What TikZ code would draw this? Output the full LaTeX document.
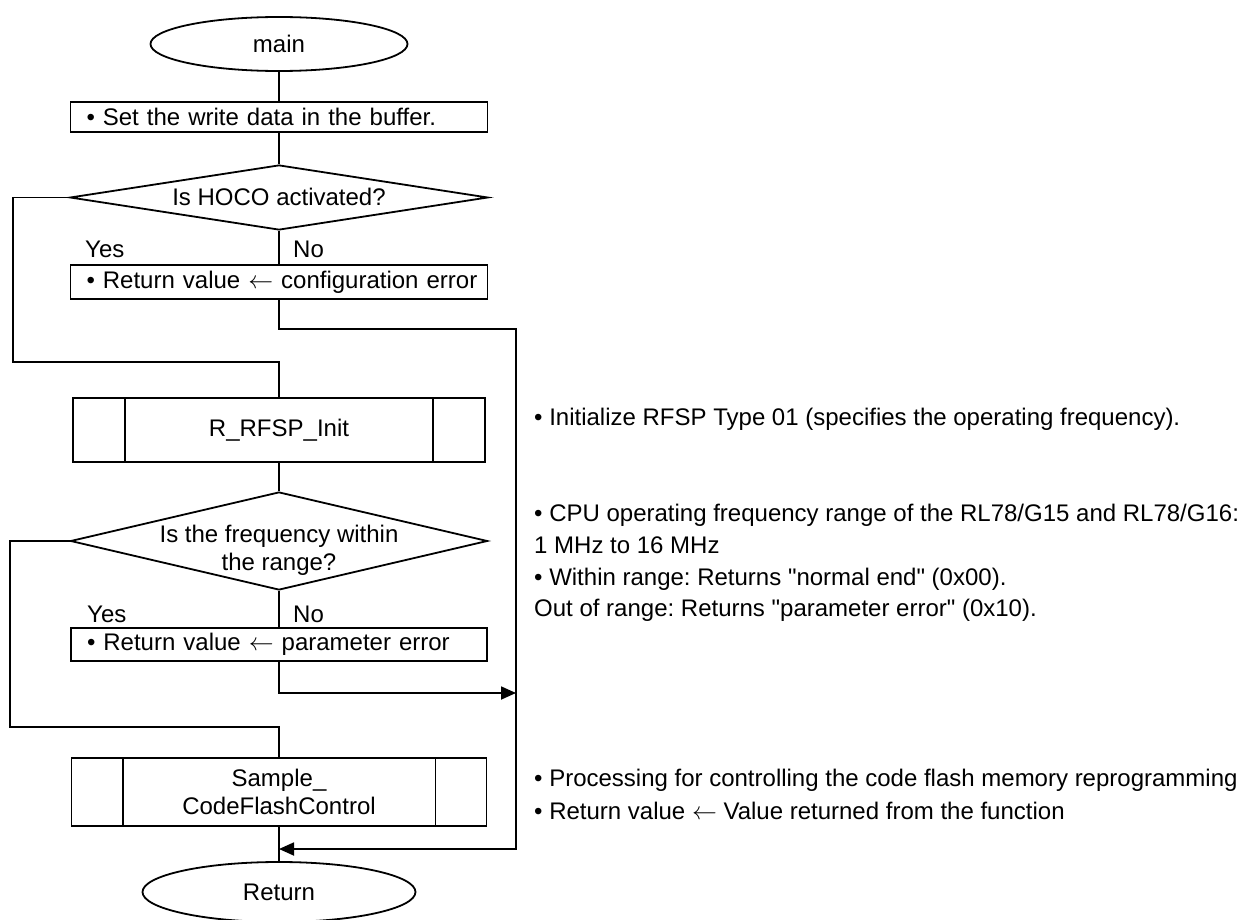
\documentclass[tikz,border=0pt]{standalone}
\usepackage{fontspec}
\setmainfont{Liberation Sans}
\usetikzlibrary{shapes.geometric,arrows.meta}
\frenchspacing
\begin{document}
\begin{tikzpicture}[x=1pt,y=-1pt,
  every node/.style={font=\fontsize{24}{28}\selectfont},
  ln/.style={line width=1.8pt},
  term/.style={draw,ellipse,ln,inner sep=0pt},
  pbox/.style={draw,rectangle,ln,inner sep=0pt,text width=#1,align=left},
  sub/.style={draw,rectangle,ln,inner sep=0pt,align=center},
  dec/.style={draw,diamond,ln,inner sep=0pt},
  txt/.style={inner sep=0pt,align=center},
  lbl/.style={inner sep=0pt,anchor=base west},
  conn/.style={ln},
  arr/.style={ln,-{Triangle[length=15pt,width=13pt]}},
]
\useasboundingbox (0,0) rectangle (1242,920);

% flow column
\node[term, minimum width=257pt, minimum height=54pt] (main) at (279,44) {main};
\node[pbox=417pt, minimum height=30pt] (set) at (279,117) {\hspace*{16pt}\textbullet\ Set the write data in the buffer.};
\node[dec, minimum width=418pt, minimum height=65pt] (hoco) at (279,197.5) {};
\node[txt] (hocot) at (279,197) {Is HOCO activated?};
\node[lbl] (yes1) at (85,257.6) {Yes};
\node[lbl] (no1) at (293,257.6) {No};
\node[pbox=417pt, minimum height=34pt] (cfg) at (279,282) {\hspace*{16pt}\textbullet\ Return value $\leftarrow$ configuration error};

\node[sub, minimum width=412pt, minimum height=64pt] (init) at (279,430) {R\_RFSP\_Init};
\node[dec, minimum width=417pt, minimum height=98pt] (freq) at (279,541) {};
\node[txt] (freqt) at (279,550) {Is the frequency within\\the range?};
\node[lbl] (yes2) at (87,622.6) {Yes};
\node[lbl] (no2) at (293,622.6) {No};
\node[pbox=416pt, minimum height=33pt] (par) at (279,644.5) {\hspace*{16pt}\textbullet\ Return value $\leftarrow$ parameter error};

\node[sub, minimum width=415pt, minimum height=68pt] (sample) at (279,792) {Sample\_\\CodeFlashControl};
\node[term, minimum width=273pt, minimum height=60pt] (ret) at (279,892) {Return};

% subroutine side bars
\draw[conn] ([xshift=53pt]init.north west) -- ([xshift=53pt]init.south west);
\draw[conn] ([xshift=-53pt]init.north east) -- ([xshift=-53pt]init.south east);
\draw[conn] ([xshift=52pt]sample.north west) -- ([xshift=52pt]sample.south west);
\draw[conn] ([xshift=-52pt]sample.north east) -- ([xshift=-52pt]sample.south east);

% connectors
\coordinate (c1) at (13,362);
\coordinate (c2) at (10,727);
\coordinate (r1) at (516,329);
\coordinate (r2) at (516,849);
\coordinate (r3) at (516,693);
\draw[conn] (main) -- (set);
\draw[conn] (set) -- (hoco);
\draw[conn] (hoco) -- (cfg);
\draw[conn] (hoco.west) -| (c1) -- (c1 -| init.north) -- (init.north);
\draw[arr] (cfg.south) |- (r1) -- (r2) -- (r2 -| ret.north);
\draw[conn] (init) -- (freq);
\draw[conn] (freq) -- (par);
\draw[conn] (freq.west) -| (c2) -- (c2 -| sample.north) -- (sample.north);
\draw[arr] (par.south) |- (r3);
\draw[conn] (sample) -- (ret);

% notes
\node[lbl] (note1) at (534,425.5) {\textbullet\ Initialize RFSP Type 01 (specifies the operating frequency).};
\node[lbl] (note2) at (534,521.5) {\textbullet\ CPU operating frequency range of the RL78/G15 and RL78/G16:};
\node[lbl] (note3) at (534,553.5) {1 MHz to 16 MHz};
\node[lbl] (note4) at (534,585.5) {\textbullet\ Within range: Returns \textquotedbl normal end\textquotedbl\ (0x00).};
\node[lbl] (note5) at (534,616.5) {Out of range: Returns \textquotedbl parameter error\textquotedbl\ (0x10).};
\node[lbl] (note6) at (534,786.5) {\textbullet\ Processing for controlling the code flash memory reprogramming};
\node[lbl] (note7) at (534,819.5) {\textbullet\ Return value $\leftarrow$ Value returned from the function};
\end{tikzpicture}
\end{document}
